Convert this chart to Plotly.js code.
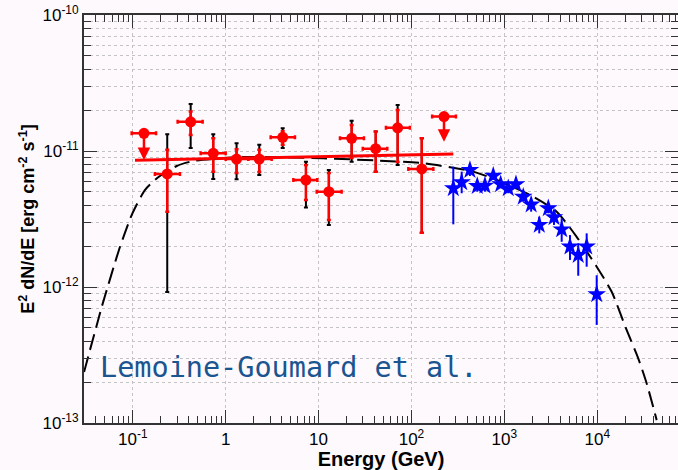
<!DOCTYPE html>
<html>
<head>
<meta charset="utf-8">
<script src="https://cdn.plot.ly/plotly-3.0.1.min.js"></script>
<style>html,body{margin:0;padding:0;background:#fdf9fd;}</style>
</head>
<body>
<div id="chart" style="width:678px;height:470px;"></div>
<script>
// Fermi-LAT spectral points (energy in GeV, E^2 dN/dE in erg cm^-2 s^-1)
const latE    = [0.235, 0.42, 0.735, 1.31, 2.30, 4.11, 7.31, 12.9, 22.7, 41.2, 71.0, 129];
const latEmin = [0.173, 0.304, 0.538, 1.0, 1.75, 3.05, 5.35, 9.55, 17.0, 29.9, 53.1, 92.5];
const latEmax = [0.322, 0.565, 1.0, 1.75, 3.13, 5.57, 9.69, 17.7, 30.8, 54.9, 96.2, 172];
const latF    = [6.78e-12, 1.64e-11, 9.62e-12, 8.73e-12, 8.73e-12, 1.26e-11, 6.12e-12, 5.02e-12, 1.24e-11, 1.04e-11, 1.48e-11, 7.38e-12];
// statistical errors
const latStatHi = [1.02e-11, 1.95e-11, 1.24e-11, 1.03e-11, 1.02e-11, 1.40e-11, 7.89e-12, 6.89e-12, 1.55e-11, 1.39e-11, 2.0e-11, 1.24e-11];
const latStatLo = [3.58e-12, 1.31e-11, 7.05e-12, 6.9e-12, 7.0e-12, 1.11e-11, 4.37e-12, 3.11e-12, 8.9e-12, 7.05e-12, 8.3e-12, 2.51e-12];
// statistical + systematic errors
const latTotHi = [1.33e-11, 2.22e-11, 1.33e-11, 1.14e-11, 1.11e-11, 1.47e-11, 8.34e-12, 7.24e-12, 1.67e-11, 1.39e-11, 2.18e-11, 1.24e-11];
const latTotLo = [9.2e-13, 1.05e-11, 6.22e-12, 6.19e-12, 6.67e-12, 1.05e-11, 3.85e-12, 2.86e-12, 8.34e-12, 7.05e-12, 7.89e-12, 2.51e-12];

// Fermi-LAT upper limits
const ulE    = [0.132, 224];
const ulEmin = [0.0973, 167];
const ulEmax = [0.178, 301];
const ulF    = [1.35e-11, 1.79e-11];
const ulTip  = [8.6e-12, 1.17e-11];

// LAT power-law fit
const fitE = [0.1057, 282];
const fitF = [8.55e-12, 9.51e-12];

// H.E.S.S. spectral points
const hessE  = [282, 347, 426, 511, 618, 759, 912, 1101, 1333, 1597, 1942, 2375, 2971, 3421, 4140, 5085, 6240, 7690, 9860];
const hessF  = [5.32e-12, 5.89e-12, 7.24e-12, 5.53e-12, 5.56e-12, 6.58e-12, 5.69e-12, 5.32e-12, 5.69e-12, 4.61e-12, 4.04e-12, 2.86e-12, 3.79e-12, 3.25e-12, 2.65e-12, 1.98e-12, 1.72e-12, 1.98e-12, 8.83e-13];
const hessHi = [7.67e-12, 7.05e-12, 8.02e-12, 5.94e-12, 6.12e-12, 7.05e-12, 6.12e-12, 5.62e-12, 6.12e-12, 5.02e-12, 4.37e-12, 3.29e-12, 4.12e-12, 3.68e-12, 3.20e-12, 2.41e-12, 2.09e-12, 2.48e-12, 1.22e-12];
const hessLo = [2.89e-12, 4.89e-12, 6.55e-12, 5.02e-12, 5.02e-12, 6.12e-12, 5.32e-12, 4.89e-12, 5.32e-12, 4.24e-12, 3.58e-12, 2.48e-12, 3.48e-12, 2.86e-12, 2.15e-12, 1.58e-12, 1.21e-12, 1.41e-12, 5.26e-13];

// broadband model curve
const modelE = [0.0299, 0.0346, 0.0402, 0.0466, 0.0541, 0.0628, 0.0728, 0.0973, 0.135, 0.188, 0.297, 0.448, 1.43, 11.2, 45.8, 134, 462, 826, 1888, 3656, 6000, 9860, 14300, 20700, 27600, 34000, 43600];
const modelF = [2.37e-13, 3.44e-13, 5.0e-13, 7.24e-13, 1.02e-12, 1.43e-12, 1.97e-12, 3.38e-12, 5.16e-12, 6.41e-12, 7.76e-12, 8.44e-12, 9.03e-12, 8.83e-12, 8.49e-12, 8.13e-12, 7.05e-12, 6.12e-12, 4.75e-12, 3.58e-12, 2.34e-12, 1.41e-12, 9.22e-13, 4.83e-13, 2.99e-13, 1.96e-13, 1.05e-13];

// tick labels
const xTickVals = [0.1, 1, 10, 100, 1000, 10000];
const xTickText = ['10<sup>-1</sup>', '1', '10', '10<sup>2</sup>', '10<sup>3</sup>', '10<sup>4</sup>'];
const yTickVals = [1e-13, 1e-12, 1e-11, 1e-10];
const yTickText = ['10<sup>-13</sup>', '10<sup>-12</sup>', '10<sup>-11</sup>', '10<sup>-10</sup>'];

const label = 'Lemoine-Goumard et al.';

const diff = (a, b) => a.map((v, i) => v - b[i]);

function minorTicks(d0, d1) {
  const out = [];
  for (let d = d0; d <= d1; d++) {
    for (let k = 2; k <= 9; k++) out.push(k * Math.pow(10, d));
  }
  return out;
}

const RED = '#ff0000';
const BLUE = '#0000ff';

const traces = [
  {
    x: modelE, y: modelF, mode: 'lines', type: 'scatter', hoverinfo: 'skip',
    line: {color: '#000', width: 2, dash: '16px,7px', shape: 'spline', smoothing: 0.6}
  },
  {
    x: fitE, y: fitF, mode: 'lines', type: 'scatter',
    line: {color: RED, width: 3}
  },
  {
    x: latE, y: latF, mode: 'markers', type: 'scatter',
    marker: {color: 'rgba(0,0,0,0)', size: 1},
    error_y: {type: 'data', symmetric: false, array: diff(latTotHi, latF), arrayminus: diff(latF, latTotLo),
              color: '#000', thickness: 2, width: 2}
  },
  {
    x: latE, y: latF, mode: 'markers', type: 'scatter',
    marker: {color: RED, size: 11, symbol: 'circle'},
    error_y: {type: 'data', symmetric: false, array: diff(latStatHi, latF), arrayminus: diff(latF, latStatLo),
              color: RED, thickness: 2.5, width: 2},
    error_x: {type: 'data', symmetric: false, array: diff(latEmax, latE), arrayminus: diff(latE, latEmin),
              color: RED, thickness: 2.5, width: 2}
  },
  {
    x: ulE, y: ulF, mode: 'markers', type: 'scatter',
    marker: {color: RED, size: 11, symbol: 'circle'},
    error_x: {type: 'data', symmetric: false, array: diff(ulEmax, ulE), arrayminus: diff(ulE, ulEmin),
              color: RED, thickness: 2.5, width: 2}
  },
  {
    x: hessE, y: hessF, mode: 'markers', type: 'scatter',
    marker: {color: BLUE, size: 14, symbol: 'star'},
    error_y: {type: 'data', symmetric: false, array: diff(hessHi, hessF), arrayminus: diff(hessF, hessLo),
              color: BLUE, thickness: 2, width: 0}
  }
];

// downward arrows for the upper limits
const annotations = ulE.map((e, i) => ({
  x: Math.log10(e), y: Math.log10(ulTip[i]),
  ax: Math.log10(e), ay: Math.log10(ulF[i]),
  xref: 'x', yref: 'y', axref: 'x', ayref: 'y',
  text: '', showarrow: true, arrowhead: 2, arrowsize: 1, arrowwidth: 2.5,
  arrowcolor: RED, standoff: 0, startstandoff: 0
}));
annotations.push({
  xref: 'paper', yref: 'paper', x: 0.023, y: 0.135, xanchor: 'left', yanchor: 'middle',
  text: label, showarrow: false,
  font: {family: 'DejaVu Sans Mono, monospace', size: 28.5, color: '#1b5590'}
});

const axisCommon = {
  type: 'log', tickmode: 'array',
  ticks: 'inside', ticklen: 13, tickwidth: 1, tickcolor: '#333',
  showline: true, linecolor: '#333', linewidth: 2, mirror: 'ticks',
  showgrid: true, gridcolor: '#c4c4c4', griddash: 'dot', gridwidth: 1,
  zeroline: false,
  tickfont: {family: 'Liberation Sans, Arial, sans-serif', size: 17, color: '#000'}
};

const layout = {
  width: 678, height: 470,
  margin: {l: 84, r: 0, t: 15, b: 47},
  paper_bgcolor: '#fdf9fd', plot_bgcolor: '#fdf9fd',
  showlegend: false,
  font: {family: 'Liberation Sans, Arial, sans-serif', color: '#000'},
  xaxis: Object.assign({}, axisCommon, {
    range: [-1.525, 4.869],
    tickvals: xTickVals, ticktext: xTickText,
    minor: {tickmode: 'array', tickvals: minorTicks(-2, 4), ticks: 'inside', ticklen: 7,
            tickcolor: '#333', showgrid: false},
    title: {text: '<b>Energy (GeV)</b>', font: {size: 20}, standoff: 0}
  }),
  yaxis: Object.assign({}, axisCommon, {
    range: [-13, -10],
    tickvals: yTickVals, ticktext: yTickText,
    minor: {tickmode: 'array', tickvals: minorTicks(-13, -11), ticks: 'inside', ticklen: 7,
            tickcolor: '#333', showgrid: true, gridcolor: '#c4c4c4', griddash: 'dot', gridwidth: 1},
    title: {text: '<b>E<sup>2</sup> dN/dE [erg cm<sup>-2</sup> s<sup>-1</sup>]</b>', font: {size: 18}, standoff: 3}
  }),
  annotations: annotations
};

Plotly.newPlot('chart', traces, layout, {displayModeBar: false, staticPlot: true});
</script>
</body>
</html>
